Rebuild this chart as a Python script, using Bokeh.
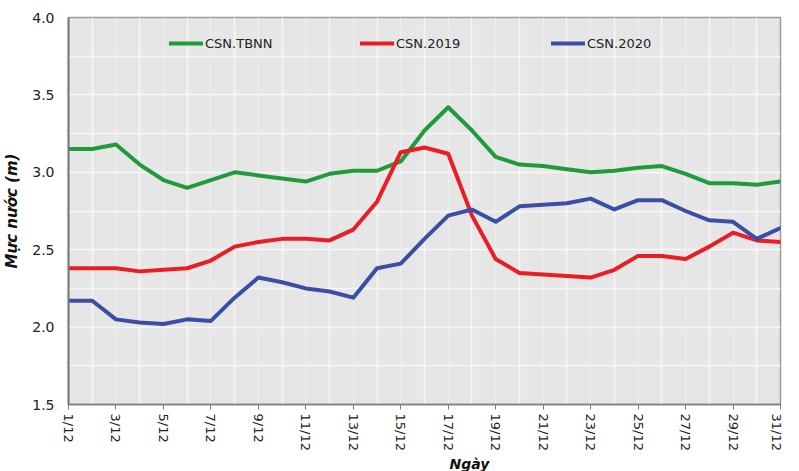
from bokeh.plotting import figure
from bokeh.models import Range1d, FixedTicker, Legend, LegendItem, Title, Grid, ColumnDataSource
from bokeh.embed import file_html
from bokeh.resources import INLINE

days = list(range(1, 32))
tick_days = list(range(1, 32, 2))
tick_labels = [f"{d}/12" for d in tick_days]

tbnn = [3.15, 3.15, 3.18, 3.05, 2.95, 2.90, 2.95, 3.00, 2.98, 2.96, 2.94, 2.99, 3.01, 3.01, 3.07,
        3.27, 3.42, 3.27, 3.10, 3.05, 3.04, 3.02, 3.00, 3.01, 3.03, 3.04, 2.99, 2.93, 2.93, 2.92, 2.94]
y2019 = [2.38, 2.38, 2.38, 2.36, 2.37, 2.38, 2.43, 2.52, 2.55, 2.57, 2.57, 2.56, 2.63, 2.81, 3.13,
         3.16, 3.12, 2.72, 2.44, 2.35, 2.34, 2.33, 2.32, 2.37, 2.46, 2.46, 2.44, 2.52, 2.61, 2.56, 2.55]
y2020 = [2.17, 2.17, 2.05, 2.03, 2.02, 2.05, 2.04, 2.19, 2.32, 2.29, 2.25, 2.23, 2.19, 2.38, 2.41,
         2.57, 2.72, 2.76, 2.68, 2.78, 2.79, 2.80, 2.83, 2.76, 2.82, 2.82, 2.75, 2.69, 2.68, 2.57, 2.64]

series_names = ["CSN.TBNN", "CSN.2019", "CSN.2020"]
series_colors = ["#1f9a3c", "#ec1c24", "#3b4ea6"]

FONT = "DejaVu Sans"

p = figure(width=783, height=471, output_backend="svg", toolbar_location=None,
           x_range=Range1d(1, 31), y_range=Range1d(1.5, 4.0),
           min_border_left=61, min_border_right=3, min_border_top=17, min_border_bottom=67)
p.background_fill_color = "#e6e6e6"
p.border_fill_color = "white"
p.outline_line_color = "#9a9a9a"
p.outline_line_width = 1.5

# grids
p.xgrid.ticker = FixedTicker(ticks=list(range(2, 32, 2)))
p.xgrid.grid_line_color = "#f7f7f7"
p.xgrid.grid_line_width = 1.5
odd_grid = Grid(dimension=0, ticker=FixedTicker(ticks=tick_days), grid_line_color="#eeeeee", grid_line_width=1.2)
p.add_layout(odd_grid)
p.ygrid.ticker = FixedTicker(ticks=[1.75, 2.0, 2.25, 2.5, 2.75, 3.0, 3.25, 3.5, 3.75])
p.ygrid.grid_line_color = "#f7f7f7"
p.ygrid.grid_line_width = 1.5

# axes
p.xaxis.ticker = FixedTicker(ticks=tick_days)
p.xaxis.major_label_overrides = {d: lab for d, lab in zip(tick_days, tick_labels)}
p.xaxis.major_label_orientation = -1.5707963
p.xaxis.major_label_text_font = FONT
p.xaxis.major_label_text_font_size = "13px"
p.xaxis.major_label_text_color = "#222222"
p.xaxis.major_label_standoff = 4
p.xaxis.major_tick_in = 0
p.xaxis.major_tick_out = 5
p.xaxis.minor_tick_line_color = None
p.xaxis.axis_line_color = "#7a7a7a"
p.xaxis.axis_line_width = 1.5
p.xaxis.major_tick_line_color = "#7a7a7a"

p.yaxis.ticker = FixedTicker(ticks=[1.5, 2.0, 2.5, 3.0, 3.5, 4.0])
p.yaxis.major_label_overrides = {1.5: "1.5", 2.0: "2.0", 2.5: "2.5", 3.0: "3.0", 3.5: "3.5", 4.0: "4.0"}
p.yaxis.major_label_text_font = FONT
p.yaxis.major_label_text_font_size = "14px"
p.yaxis.major_label_text_color = "#222222"
p.yaxis.major_label_standoff = 14
p.yaxis.major_tick_in = 0
p.yaxis.major_tick_out = 0
p.yaxis.minor_tick_line_color = None
p.yaxis.axis_line_color = "#7a7a7a"
p.yaxis.axis_line_width = 2
p.yaxis.axis_label = "Mực nước (m)"
p.yaxis.axis_label_text_font = FONT
p.yaxis.axis_label_text_font_size = "15px"
p.yaxis.axis_label_text_font_style = "bold italic"
p.yaxis.axis_label_text_color = "#111111"
p.yaxis.axis_label_standoff = 8

src = ColumnDataSource(dict(day=days, tbnn=tbnn, y2019=y2019, y2020=y2020))
renderers = []
for col, color in zip(["tbnn", "y2019", "y2020"], series_colors):
    r = p.line("day", col, source=src, line_color=color, line_width=4, line_join="round", line_cap="round")
    renderers.append(r)

legend = Legend(items=[LegendItem(label=n, renderers=[r]) for n, r in zip(series_names, renderers)],
                orientation="horizontal", location=(101, 351),
                glyph_width=34, glyph_height=20, label_standoff=2, label_width=155, spacing=0,
                padding=0, margin=0,
                label_text_font=FONT, label_text_font_size="13px", label_text_color="#222222",
                background_fill_alpha=0, border_line_alpha=0)
p.add_layout(legend, "center")

xtitle = Title(text="Ngày", align="left", offset=381, standoff=0,
               text_font=FONT, text_font_size="14px", text_font_style="bold italic",
               text_color="#111111")
p.add_layout(xtitle, "below")

open("out.html", "w").write(file_html(p, INLINE))
